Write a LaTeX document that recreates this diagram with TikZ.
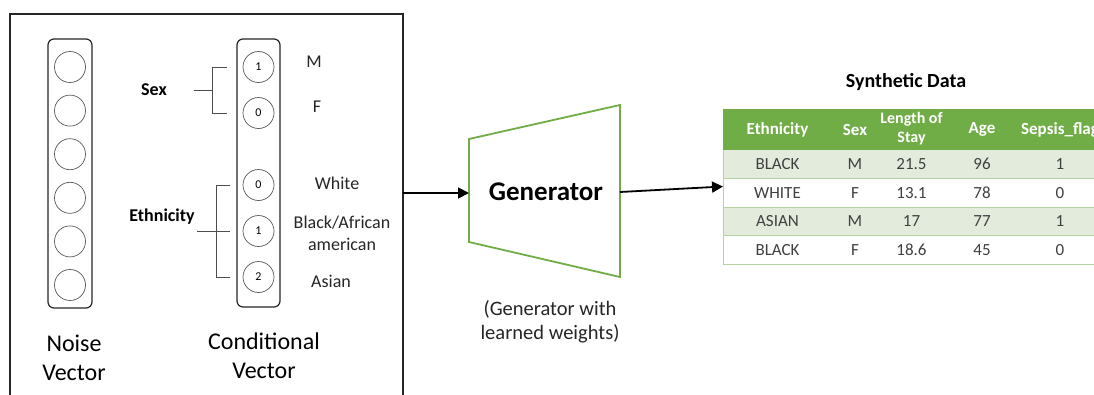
\documentclass[tikz,border=0pt]{standalone}
\usepackage{fontspec}
\setmainfont{Carlito}
\usetikzlibrary{arrows.meta,matrix}
\definecolor{GenGreen}{HTML}{70AD47}
\definecolor{RowFill}{HTML}{E3EBDD}
\definecolor{RowLine}{HTML}{B5D3A0}
\definecolor{InkDark}{HTML}{262626}
\definecolor{CellText}{HTML}{404040}
\newcommand{\ptsize}[2]{\fontsize{#1}{#2}\selectfont}
\newcommand{\stayhead}{\ptsize{16}{18}\begin{tabular}{@{}c@{}}Length of\\[1pt]Stay\end{tabular}}

\begin{document}
\begin{tikzpicture}[
    x=1pt, y=-1pt,
    frame/.style={draw=InkDark, line width=1.5pt},
    vecbox/.style={
      draw=InkDark,
      line width=1.2pt,
      rounded corners=6pt,
      minimum width=44pt,
      minimum height=269pt,
      inner sep=0pt
    },
    unit/.style={
      circle,
      draw=black!65,
      line width=0.7pt,
      minimum size=31pt,
      inner sep=0pt,
      font=\ptsize{12}{14}
    },
    lbl/.style={font=\ptsize{18}{22}, text=InkDark, align=center, inner sep=0pt},
    grp/.style={font=\bfseries\ptsize{18}{22}, inner sep=0pt},
    caption/.style={font=\ptsize{24}{29}, align=center, inner sep=0pt},
    brk/.style={draw=black!70, line width=0.7pt},
    arr/.style={-{Triangle[length=11pt,width=11pt]}, line width=1.8pt},
    cell/.style={
      anchor=center,
      inner sep=0pt,
      minimum height=28.5pt,
      text=CellText,
      font=\ptsize{17}{20}
    },
    head/.style={
      fill=GenGreen,
      text=white,
      minimum height=41pt,
      font=\bfseries\ptsize{17}{18}
    }
  ]
  \path[use as bounding box, fill=white] (0,0) rectangle (1094,394);

  % Input frame
  \draw[frame] (10,400) -- (10,14) -- (403,14) -- (403,400);
  \coordinate (boxout) at (403,193);

  % Noise vector
  \node[vecbox] (noise) at (70,173.5) {};
  \node[unit] (n1) at (70,67)    {};
  \node[unit] (n2) at (70,110.6) {};
  \node[unit] (n3) at (70,154.2) {};
  \node[unit] (n4) at (70,197.8) {};
  \node[unit] (n5) at (70,241.4) {};
  \node[unit] (n6) at (70,285)   {};
  \node[caption] (noisecap) at (74,358) {Noise\\Vector};

  % Conditional vector
  \node[vecbox, minimum width=43pt, minimum height=268pt] (cond) at (258.5,173) {};
  \node[unit] (c1) at (258.5,67)  {1};
  \node[unit] (c2) at (258.5,113) {0};
  \node[unit] (c3) at (258.5,185) {0};
  \node[unit] (c4) at (258.5,231) {1};
  \node[unit] (c5) at (258.5,277) {2};
  \node[caption] (condcap) at (264,356) {Conditional\\Vector};

  % Category values
  \node[lbl] (male)  at (314,62)  {M};
  \node[lbl] (fem)   at (317,107) {F};
  \node[lbl] (white) at (337,183) {White};
  \node[lbl] (black) at (342,233) {Black/African\\american};
  \node[lbl] (asian) at (331,281) {Asian};

  % Groups
  \node[grp] (sex) at (154,90)  {Sex};
  \node[grp] (eth) at (162,217) {Ethnicity};
  \coordinate (sexjoin) at (213,90);
  \coordinate (ethjoin) at (197,231);
  \draw[brk] ([xshift=27pt]sex.east) -- (sexjoin);
  \draw[brk] ([xshift=-16pt]c1.west) -| ([xshift=-30pt]c2.west) -- ([xshift=-16pt]c2.west);
  \draw[brk] ([xshift=-13pt]c3.west) -| ([xshift=-26pt]c5.west) -- ([xshift=-13pt]c5.west);
  \draw[brk] (ethjoin) -- ([xshift=-13pt]c4.west);

  % Generator
  \draw[GenGreen, line width=1.8pt] (469,139) -- (620,105) -- (620,277) -- (469,242) -- cycle;
  \coordinate (genin)  at (469,193);
  \coordinate (genout) at (620,192);
  \node[font=\bfseries\ptsize{27}{30}] (gen) at (546,192) {Generator};
  \node[lbl, font=\ptsize{20.5}{24}] (gencap) at (550,322) {(Generator with\\learned weights)};

  % Synthetic data table
  \node[grp, font=\bfseries\ptsize{20}{24}] (title) at (906,82) {Synthetic Data};
  \matrix (tab) [
    matrix of nodes,
    anchor=north west,
    inner sep=0pt,
    outer sep=0pt,
    column sep=0pt,
    row sep=0pt,
    nodes={cell},
    row 1/.style={nodes={head}},
    row 2/.style={nodes={fill=RowFill}},
    row 4/.style={nodes={fill=RowFill}},
    column 1/.style={nodes={minimum width=109pt}},
    column 2/.style={nodes={minimum width=46pt}},
    column 3/.style={nodes={minimum width=67pt}},
    column 4/.style={nodes={minimum width=74pt}},
    column 5/.style={nodes={minimum width=82pt}}
  ] at (723,109) {
    Ethnicity & Sex & \stayhead & Age & Sepsis\_flag \\
    BLACK & M & 21.5 & 96 & 1 \\
    WHITE & F & 13.1 & 78 & 0 \\
    ASIAN & M & 17   & 77 & 1 \\
    BLACK & F & 18.6 & 45 & 0 \\
  };
  \draw[RowLine, line width=0.6pt] (tab-2-1.north west) -- (tab-5-1.south west);
  \draw[RowLine, line width=0.6pt] (tab-2-1.south west) -- (tab-2-5.south east);
  \draw[RowLine, line width=0.6pt] (tab-3-1.south west) -- (tab-3-5.south east);
  \draw[RowLine, line width=0.6pt] (tab-4-1.south west) -- (tab-4-5.south east);
  \draw[RowLine, line width=0.6pt] (tab-5-1.south west) -- (tab-5-5.south east);

  % Arrows
  \draw[arr] (boxout) -- (genin);
  \draw[arr] (genout) -- (tab.west);

\end{tikzpicture}
\end{document}
